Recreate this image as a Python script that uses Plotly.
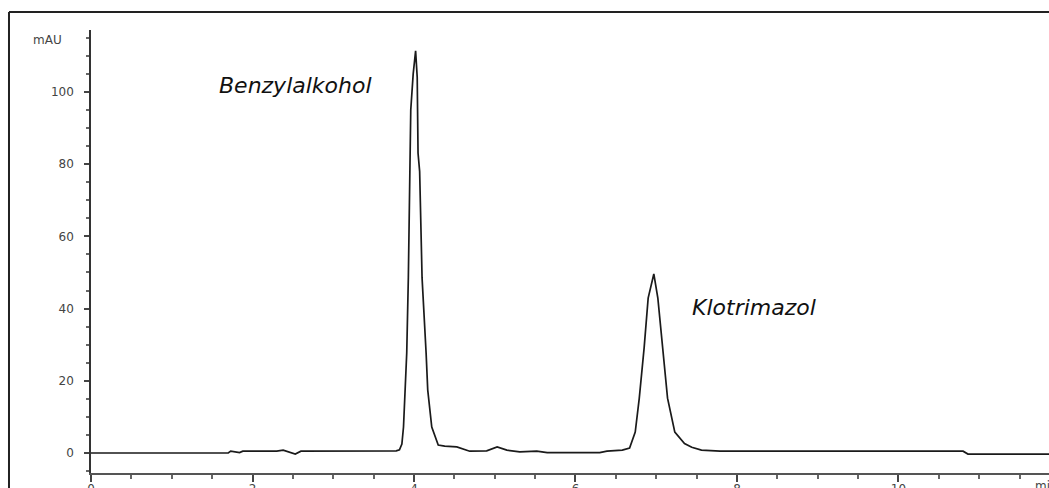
import plotly.graph_objects as go

# Retention time (min) and absorbance (mAU)
time_min = [0.00, 1.70, 1.73, 1.84, 1.88, 2.30, 2.38, 2.53, 2.60, 3.00, 3.78,
            3.82, 3.85, 3.87, 3.91, 3.93, 3.94, 3.96, 3.99, 4.02, 4.04, 4.05,
            4.07, 4.09, 4.10, 4.15, 4.17, 4.22, 4.30, 4.38, 4.53, 4.69, 4.90,
            5.03, 5.15, 5.31, 5.52, 5.65, 6.30, 6.39, 6.58, 6.67, 6.74, 6.79,
            6.85, 6.90, 6.97, 7.02, 7.08, 7.14, 7.23, 7.35, 7.44, 7.56, 7.79,
            10.80, 10.86, 11.90]
absorbance_mau = [0.0, 0.0, 0.5, 0.1, 0.5, 0.5, 0.8, -0.3, 0.5, 0.5, 0.6,
                  0.9, 2.5, 7.2, 27.7, 48.5, 68.1, 95.0, 105.0, 111.4, 104.0, 83.1,
                  78.0, 56.2, 48.5, 27.7, 17.5, 7.2, 2.2, 1.9, 1.7, 0.5, 0.6,
                  1.7, 0.8, 0.3, 0.5, 0.1, 0.1, 0.5, 0.8, 1.4, 5.8, 15.2,
                  29.1, 42.9, 49.6, 42.9, 29.1, 15.2, 5.8, 2.6, 1.6, 0.8, 0.5,
                  0.5, -0.3, -0.3]

peak_names = ["Benzylalkohol", "Klotrimazol"]
peak_label_time = [2.53, 8.21]
peak_label_mau = [101.9, 40.2]

x_range = [0, 11.864]
y_range = [-5.54, 117.17]

fig = go.Figure()
fig.add_trace(go.Scatter(
    x=time_min, y=absorbance_mau, mode="lines",
    line=dict(color="#1a1a1a", width=1.7),
    hoverinfo="skip", showlegend=False,
))

for name, tx, ty in zip(peak_names, peak_label_time, peak_label_mau):
    fig.add_annotation(
        x=tx, y=ty, xref="x", yref="y", text="<i>" + name + "</i>",
        showarrow=False, xanchor="center", yanchor="middle",
        font=dict(family="DejaVu Sans", size=22, color="#111"),
    )

tick_font = dict(family="DejaVu Sans", size=12, color="#444")

fig.update_xaxes(
    range=x_range, showline=True, linecolor="#555", linewidth=2,
    showgrid=False, zeroline=False, ticks="outside", ticklen=7, tickwidth=1.5,
    tickcolor="#444", dtick=2, tick0=0, tickfont=tick_font, automargin=False,
    ticklabelstandoff=-3,
    minor=dict(dtick=0.5, ticks="outside", ticklen=4, tickcolor="#666"),
)
fig.update_yaxes(
    range=y_range, showline=True, linecolor="#333", linewidth=1.5,
    showgrid=False, zeroline=False, ticks="outside", ticklen=5, tickwidth=1.5,
    tickcolor="#444", dtick=20, tick0=0, tickfont=tick_font, ticklabelstandoff=8,
    automargin=False,
    minor=dict(dtick=5, ticks="outside", ticklen=3, tickcolor="#666"),
)

# outer frame of the screenshot window (top and left border)
fig.add_shape(type="line", xref="paper", yref="paper",
              x0=-0.0856, x1=1.01, y0=1.0406, y1=1.0406,
              line=dict(color="#222", width=2))
fig.add_shape(type="line", xref="paper", yref="paper",
              x0=-0.0856, x1=-0.0856, y0=1.0406, y1=-0.08,
              line=dict(color="#222", width=2))

fig.add_annotation(x=-0.0449, y=0.977, xref="paper", yref="paper", text="mAU",
                   showarrow=False, xanchor="center", yanchor="middle",
                   font=dict(family="DejaVu Sans", size=12, color="#444"))
fig.add_annotation(x=0.983, y=-0.010, xref="paper", yref="paper", text="min",
                   showarrow=False, xanchor="left", yanchor="top",
                   font=dict(family="DejaVu Sans", size=12, color="#444"))

fig.update_layout(
    width=1049, height=488,
    margin=dict(l=91, r=0, t=30, b=15, autoexpand=False),
    paper_bgcolor="white", plot_bgcolor="white",
)

fig.write_html(
    "out.html",
    config={"displayModeBar": False},
    post_script="document.body.style.margin='0';document.body.style.padding='0';",
)
